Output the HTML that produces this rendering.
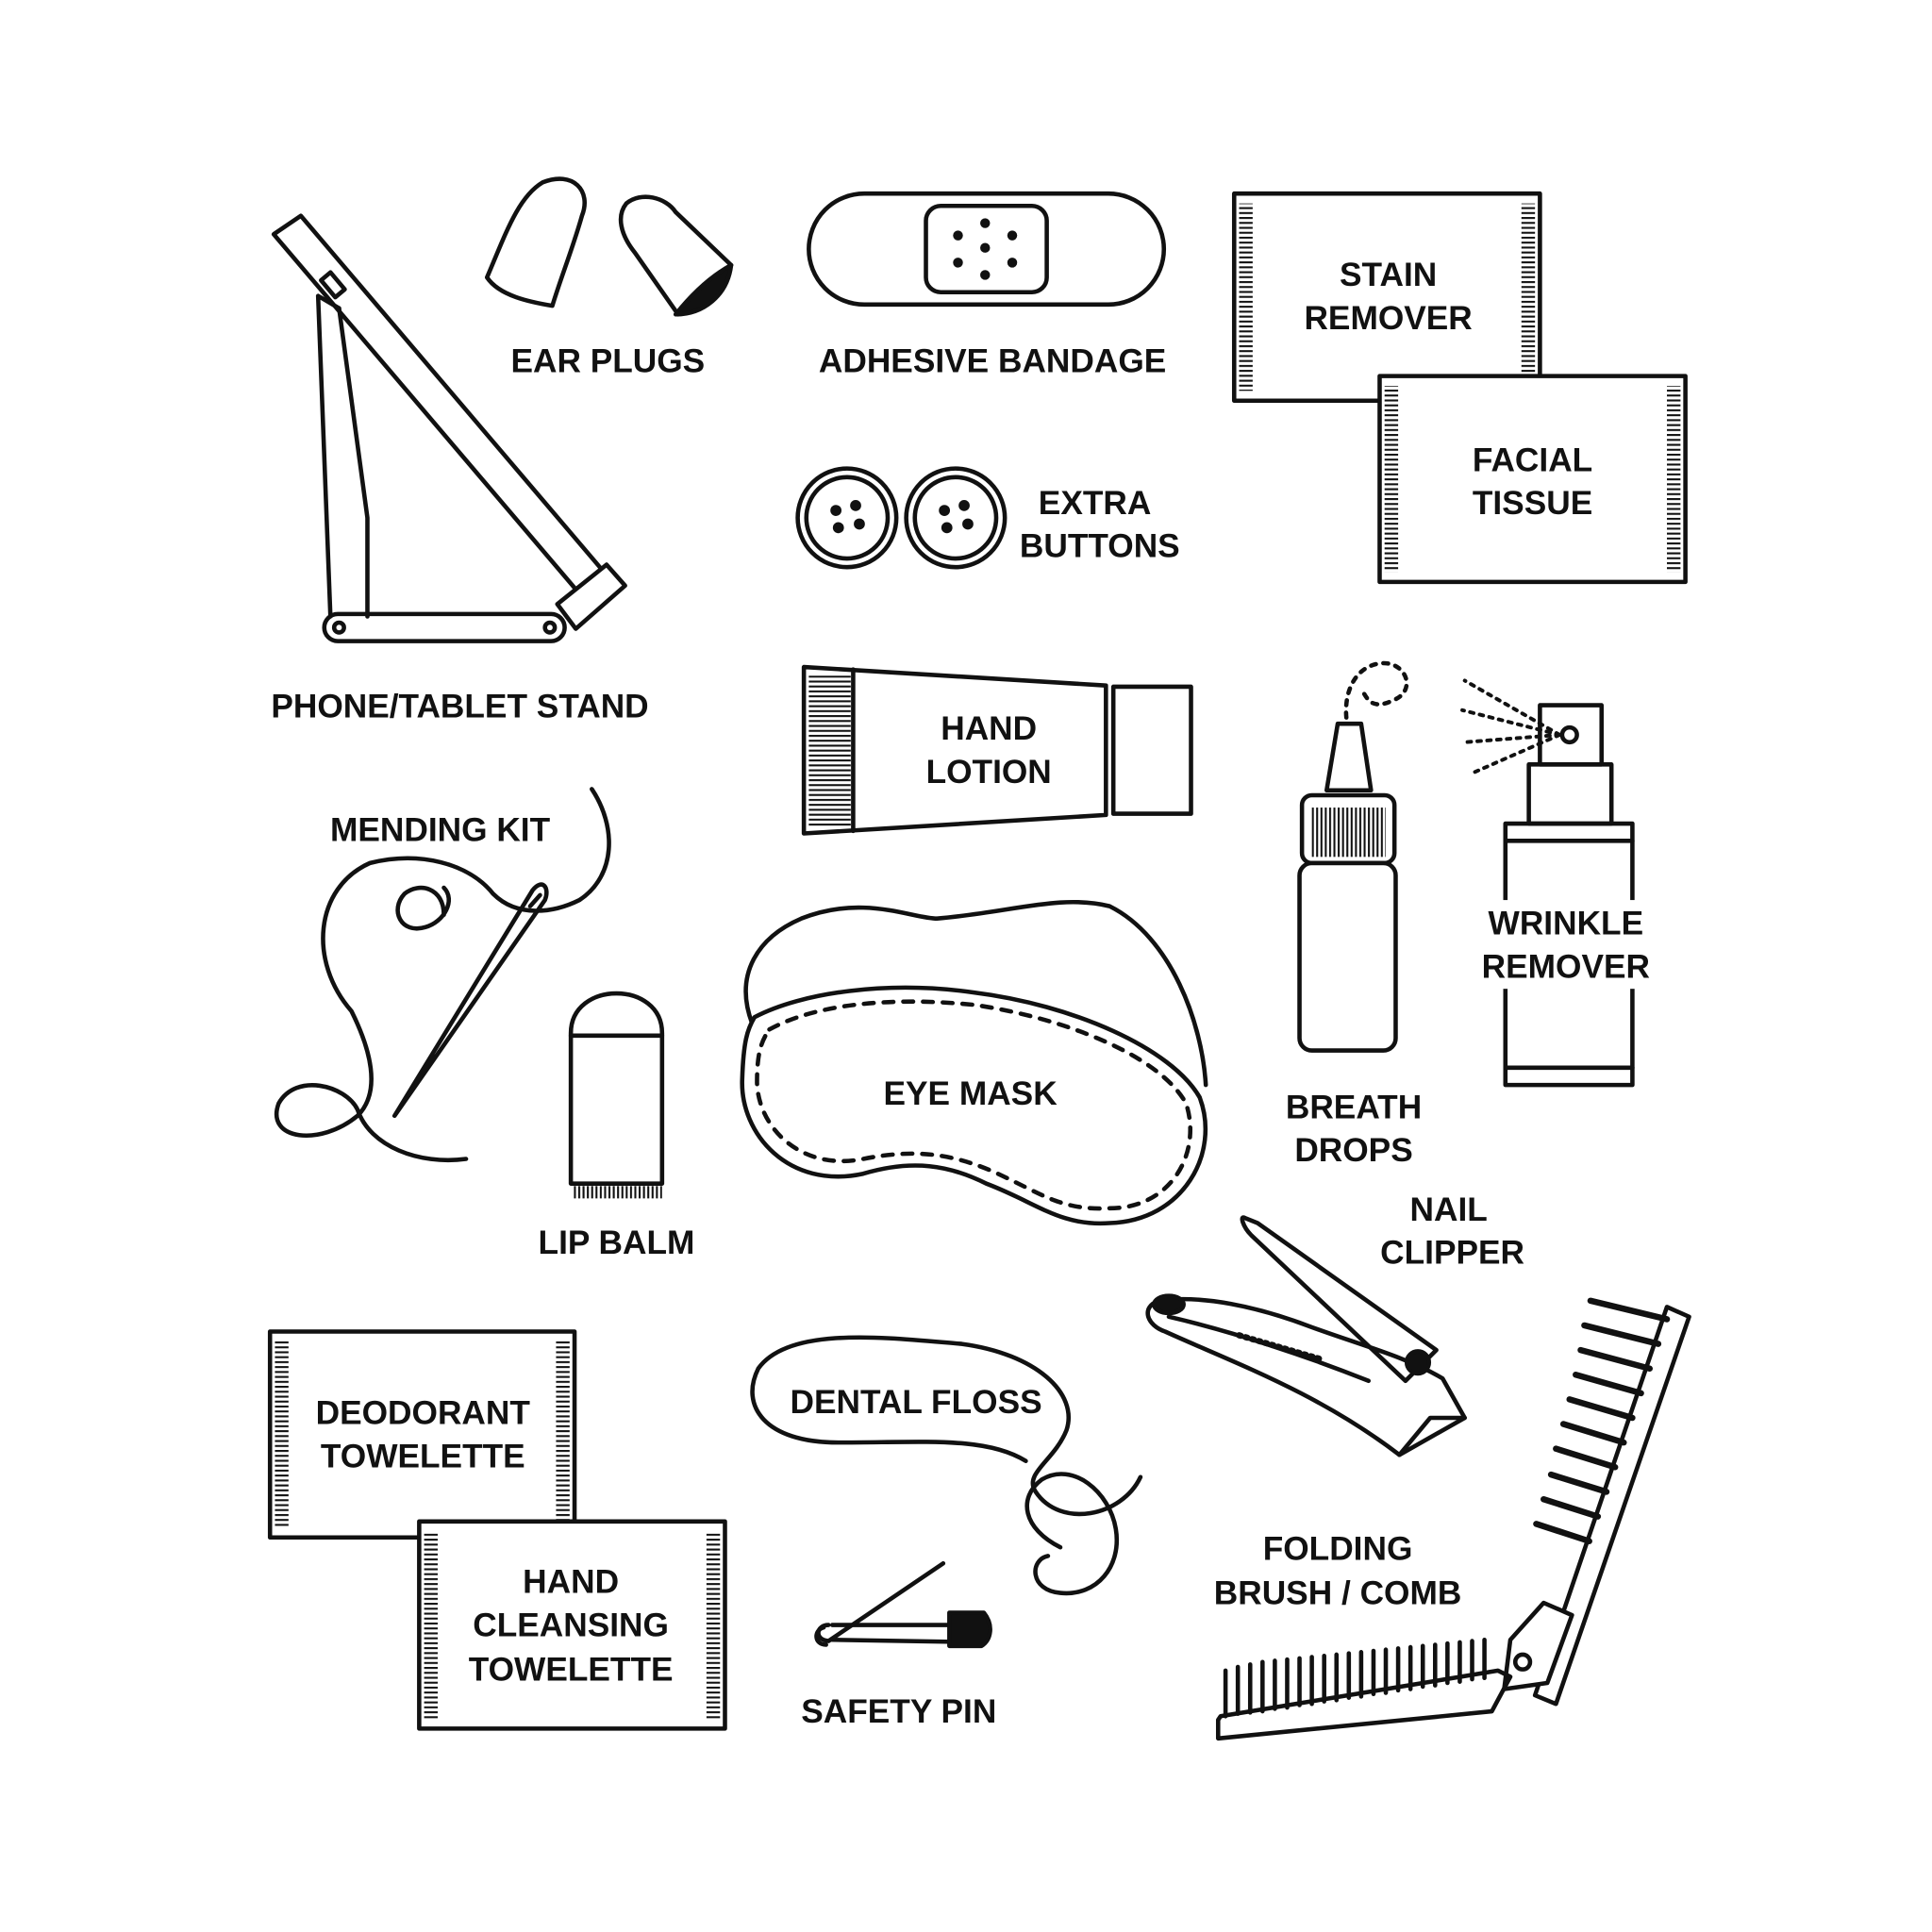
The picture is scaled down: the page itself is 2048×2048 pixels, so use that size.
<!DOCTYPE html>
<html><head><meta charset="utf-8"><style>
html,body{margin:0;padding:0;background:#fff}
svg{display:block}
text{font-family:"Liberation Sans",sans-serif;font-weight:bold;font-size:27px;fill:#111;text-anchor:middle}
</style></head><body>
<svg width="2048" height="2048" viewBox="0 0 1567 1567" xmlns="http://www.w3.org/2000/svg">
<defs>
<pattern id="h" width="3" height="4" patternUnits="userSpaceOnUse"><rect x="0" y="0" width="12" height="1.6" fill="#111"/></pattern>
<pattern id="v" width="3.5" height="10" patternUnits="userSpaceOnUse"><rect x="0" y="0" width="1.6" height="10" fill="#111"/></pattern>
</defs>
<rect width="1567" height="1567" fill="#fff"/>
<g fill="none" stroke="#111" stroke-width="3.5" stroke-linejoin="round" stroke-linecap="round">

<!-- phone stand -->
<polygon points="222,190 244,175 495,470 473,485"/>
<rect x="265" y="222" width="10" height="18" transform="rotate(-40 270 231)"/>
<path d="M258,240 L268,500 M258,240 L275,250"/>
<path d="M275,250 L298,420 L298,500"/>
<rect x="263" y="498" width="195" height="22" rx="11"/>
<circle cx="275" cy="509" r="4"/><circle cx="446" cy="509" r="4"/>
<polygon points="452,490 492,458 507,475 467,510" fill="#fff"/>

<!-- ear plugs -->
<path d="M395,225 C410,190 420,160 440,148 C465,138 480,155 472,175 C465,200 455,225 448,248 C430,245 405,240 395,225 Z"/>
<path d="M508,165 C520,155 540,160 548,172 L593,215 C580,230 565,245 550,255 L515,205 C503,190 500,175 508,165 Z"/>
<path d="M548,255 C560,240 575,225 593,215 C590,240 570,255 548,255 Z" fill="#111"/>

<!-- bandage -->
<rect x="656" y="157" width="288" height="90" rx="45"/>
<rect x="751" y="167" width="98" height="70" rx="12"/>
<g fill="#111" stroke="none"><circle cx="799" cy="181" r="4"/><circle cx="777" cy="191" r="4"/><circle cx="821" cy="191" r="4"/><circle cx="799" cy="201" r="4"/><circle cx="777" cy="213" r="4"/><circle cx="821" cy="213" r="4"/><circle cx="799" cy="223" r="4"/></g>

<!-- stain remover / facial tissue -->
<rect x="1001" y="157" width="248" height="168"/>
<rect x="1005" y="165" width="11" height="152" fill="url(#h)" stroke="none"/>
<rect x="1234" y="165" width="11" height="152" fill="url(#h)" stroke="none"/>
<rect x="1119" y="305" width="248" height="167" fill="#fff"/>
<rect x="1123" y="313" width="11" height="151" fill="url(#h)" stroke="none"/>
<rect x="1352" y="313" width="11" height="151" fill="url(#h)" stroke="none"/>

<!-- buttons -->
<circle cx="687" cy="420" r="40"/><circle cx="687" cy="420" r="33"/>
<circle cx="775" cy="420" r="40"/><circle cx="775" cy="420" r="33"/>
<g fill="#111" stroke="none"><circle cx="678" cy="414" r="4.5"/><circle cx="694" cy="410" r="4.5"/><circle cx="680" cy="428" r="4.5"/><circle cx="697" cy="425" r="4.5"/>
<circle cx="766" cy="414" r="4.5"/><circle cx="782" cy="410" r="4.5"/><circle cx="768" cy="428" r="4.5"/><circle cx="785" cy="425" r="4.5"/></g>

<!-- hand lotion -->
<polygon points="652,541 897,556 897,661 652,676"/>
<rect x="656" y="548" width="34" height="122" fill="url(#h)" stroke="none"/>
<line x1="692" y1="543" x2="692" y2="674"/>
<rect x="903" y="557" width="63" height="103"/>

<!-- breath drops -->
<rect x="1054" y="700" width="78" height="152" rx="10"/>
<rect x="1056" y="645" width="75" height="55" rx="8"/>
<rect x="1064" y="655" width="60" height="40" fill="url(#v)" stroke="none"/>
<polygon points="1076,641 1085,587 1104,587 1112,641"/>
<path d="M1092,582 C1090,560 1100,540 1120,538 C1140,536 1150,560 1130,568 C1115,575 1110,570 1105,560" stroke-dasharray="4 6"/>

<!-- wrinkle remover -->
<rect x="1221" y="668" width="103" height="212"/>
<line x1="1221" y1="682" x2="1324" y2="682"/><line x1="1221" y1="866" x2="1324" y2="866"/>
<rect x="1240" y="620" width="67" height="48"/>
<rect x="1249" y="572" width="50" height="48"/>
<circle cx="1273" cy="596" r="6"/>
<g stroke-dasharray="3 5" stroke-width="3"><path d="M1265,596 L1188,552"/><path d="M1265,596 L1186,576"/><path d="M1265,596 L1188,602"/><path d="M1265,596 L1192,628"/></g>
<rect x="1196" y="730" width="150" height="72" fill="#fff" stroke="none"/>

<!-- mending kit -->
<path d="M378,940 C340,945 300,930 290,900 C280,880 240,870 226,895 C215,925 260,930 290,905 C310,885 300,850 285,820 C250,780 255,720 300,700 C340,690 380,700 400,725 C420,745 450,740 470,730 C500,710 500,670 480,640"/>
<path d="M360,742 C360,720 340,715 328,725 C316,738 325,758 345,752 C360,748 370,730 360,720"/>
<path d="M320,905 L432,722 C440,712 446,720 442,730 Z"/>
<path d="M430,735 L438,726"/>

<!-- lip balm -->
<path d="M463,960 L463,838 C463,795 537,795 537,838 L537,960 Z"/>
<line x1="463" y1="840" x2="537" y2="840"/>
<rect x="465" y="962" width="72" height="10" fill="url(#v)" stroke="none"/>

<!-- eye mask -->
<path d="M610,830 C595,790 615,760 650,745 C700,725 740,745 760,745 C820,740 860,725 900,735 C950,760 975,830 978,880"/>
<path d="M612,825 C650,805 720,795 790,805 C870,815 950,850 973,890 C990,935 960,990 900,992 C860,995 840,975 800,960 C770,945 740,940 700,952 C640,965 600,920 602,875 C603,845 606,835 612,825 Z" fill="#fff"/>
<path d="M624,835 C660,815 720,808 790,815 C860,825 940,855 962,895 C975,935 950,980 900,980 C860,982 845,968 805,950 C770,935 740,932 700,940 C650,950 615,915 614,878 C614,855 617,845 624,835 Z" stroke-dasharray="8 8"/>

<!-- nail clipper -->
<path d="M1010,988 C1005,985 1008,995 1015,1002 L1140,1120 L1165,1095 L1020,992 Z"/>
<path d="M940,1055 C925,1060 930,1075 945,1080 C1000,1105 1070,1130 1135,1180 L1188,1150 L1170,1118 C1140,1100 1100,1090 1060,1075 C1020,1060 975,1050 940,1055 Z"/>
<path d="M948,1068 C1000,1080 1060,1100 1110,1120"/>
<ellipse cx="948" cy="1058" rx="12" ry="7" fill="#111"/>
<circle cx="1150" cy="1105" r="9" fill="#111"/>
<path d="M1005,1083 L1070,1102" stroke-dasharray="1.5 4" stroke-width="5"/>
<path d="M1135,1180 L1160,1150 L1188,1150"/>

<!-- folding brush/comb -->
<polygon points="1352,1060 1370,1068 1262,1382 1245,1375"/>
<g stroke-width="5"><line x1="1352" y1="1070" x2="1290" y2="1055"/><line x1="1345" y1="1090" x2="1285" y2="1075"/><line x1="1338" y1="1110" x2="1282" y2="1095"/><line x1="1331" y1="1130" x2="1278" y2="1115"/><line x1="1324" y1="1150" x2="1273" y2="1135"/><line x1="1317" y1="1170" x2="1268" y2="1155"/><line x1="1310" y1="1190" x2="1262" y2="1175"/><line x1="1303" y1="1210" x2="1258" y2="1196"/><line x1="1296" y1="1230" x2="1252" y2="1216"/><line x1="1289" y1="1250" x2="1246" y2="1236"/></g>
<path d="M1225,1330 L1252,1300 L1275,1310 L1255,1365 L1220,1370 Z" fill="#fff"/>
<circle cx="1235" cy="1348" r="6"/>
<path d="M988,1395 L988,1410 L1210,1388 L1225,1360 L1215,1355 L990,1392 Z"/>
<path d="M994,1392 L994,1355 M1004,1390 L1004,1352 M1014,1389 L1014,1350 M1024,1388 L1024,1348 M1034,1386 L1034,1347 M1044,1385 L1044,1346 M1054,1383 L1054,1345 M1064,1382 L1064,1344 M1074,1380 L1074,1343 M1084,1379 L1084,1342 M1094,1377 L1094,1341 M1104,1376 L1104,1340 M1114,1374 L1114,1339 M1124,1373 L1124,1338 M1134,1371 L1134,1337 M1144,1370 L1144,1336 M1154,1368 L1154,1335 M1164,1367 L1164,1334 M1174,1365 L1174,1333 M1184,1364 L1184,1332 M1194,1362 L1194,1331 M1204,1361 L1204,1330"/>

<!-- towelettes -->
<rect x="219" y="1080" width="247" height="167"/>
<rect x="223" y="1088" width="11" height="151" fill="url(#h)" stroke="none"/>
<rect x="451" y="1088" width="11" height="151" fill="url(#h)" stroke="none"/>
<rect x="340" y="1234" width="248" height="168" fill="#fff"/>
<rect x="344" y="1242" width="11" height="152" fill="url(#h)" stroke="none"/>
<rect x="573" y="1242" width="11" height="152" fill="url(#h)" stroke="none"/>

<!-- dental floss -->
<path d="M860,1255 C830,1240 825,1215 845,1200 C870,1185 900,1210 905,1240 C910,1270 890,1295 860,1292 C835,1290 835,1265 850,1262"/>
<path d="M832,1185 C800,1165 750,1170 680,1170 C620,1170 600,1140 615,1110 C640,1075 720,1085 780,1090 C840,1098 875,1130 865,1160 C855,1185 830,1195 840,1210 C860,1240 910,1230 925,1198"/>

<!-- safety pin -->
<path d="M675,1318 L800,1318 M675,1330 L795,1332 M668,1320 C660,1322 660,1334 670,1334"/>
<path d="M672,1318 C662,1318 660,1330 672,1331 L765,1268"/>
<path d="M770,1308 L798,1308 C806,1318 804,1330 796,1335 L770,1335 Z" fill="#111"/>
</g>

<g>
<text x="373" y="582">PHONE/TABLET STAND</text>
<text x="493" y="302">EAR PLUGS</text>
<text x="805" y="302">ADHESIVE BANDAGE</text>
<text x="1126" y="232">STAIN</text><text x="1126" y="267">REMOVER</text>
<text x="1243" y="382">FACIAL</text><text x="1243" y="417">TISSUE</text>
<text x="888" y="417">EXTRA</text><text x="892" y="452">BUTTONS</text>
<text x="802" y="600">HAND</text><text x="802" y="635">LOTION</text>
<text x="1270" y="758">WRINKLE</text><text x="1270" y="793">REMOVER</text>
<text x="1098" y="907">BREATH</text><text x="1098" y="942">DROPS</text>
<text x="357" y="682">MENDING KIT</text>
<text x="500" y="1017">LIP BALM</text>
<text x="787" y="896">EYE MASK</text>
<text x="1175" y="990">NAIL</text><text x="1178" y="1025">CLIPPER</text>
<text x="343" y="1155">DEODORANT</text><text x="343" y="1190">TOWELETTE</text>
<text x="463" y="1292">HAND</text><text x="463" y="1327">CLEANSING</text><text x="463" y="1363">TOWELETTE</text>
<text x="743" y="1146">DENTAL FLOSS</text>
<text x="729" y="1397">SAFETY PIN</text>
<text x="1085" y="1265">FOLDING</text><text x="1085" y="1301">BRUSH / COMB</text>
</g>
</svg>
</body></html>
